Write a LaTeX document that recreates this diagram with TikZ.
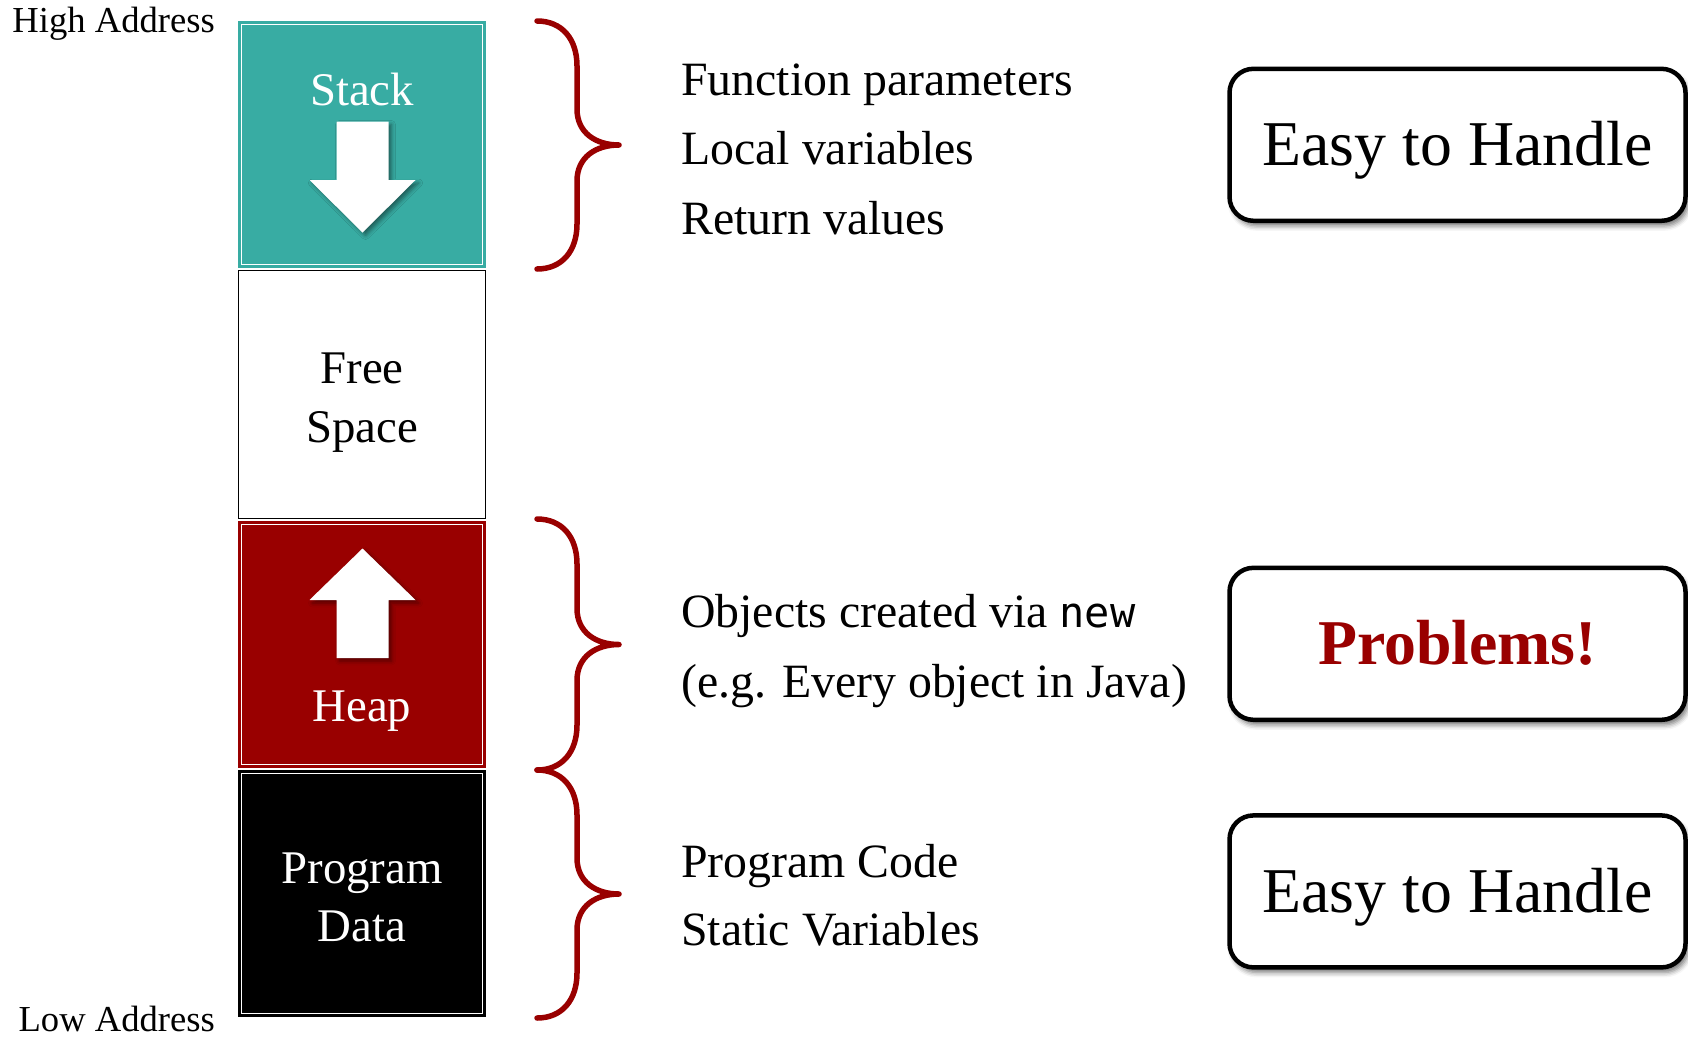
\documentclass[tikz,border=0pt]{standalone}
\usepackage{fontspec}
\setmainfont{Liberation Serif}
\newfontfamily\codefont{DejaVu Sans Mono}
\usetikzlibrary{shadows.blur}

\definecolor{stackteal}{RGB}{56,172,163}
\definecolor{heapred}{RGB}{153,0,0}
\definecolor{bracered}{RGB}{153,0,0}

\tikzset{
  % memory segment: coloured block with a thin white inner frame
  seg/.style={fill=#1, draw=#1, line width=0.8pt, inner sep=0pt, outer sep=0pt,
    minimum width=247pt, minimum height=246pt,
    path picture={\draw[white, line width=1.3pt]
      ([shift={(2.8pt,-2.8pt)}]path picture bounding box.north west) rectangle
      ([shift={(-2.8pt,2.8pt)}]path picture bounding box.south east);}},
  freeseg/.style={fill=white, draw=black, line width=1.8pt, inner sep=0pt,
    minimum width=247pt, minimum height=248pt},
  seglabel/.style={text=white, inner sep=0pt, anchor=base,
    font=\fontsize{46.8}{56}\selectfont},
  darklabel/.style={seglabel, text=black},
  addr/.style={inner sep=0pt, anchor=base east, font=\fontsize{36.6}{44}\selectfont},
  note/.style={inner sep=0pt, anchor=base west, font=\fontsize{47.8}{57}\selectfont},
  growarrow/.style={fill=white, draw=none,
    blur shadow={shadow xshift=3pt, shadow yshift=-3pt, shadow blur radius=4pt,
      shadow opacity=45}},
  bracestyle/.style={draw=bracered, line width=5.5pt, line cap=round, line join=round},
  callout/.style={draw=black, fill=white, line width=4.5pt, rounded corners=24pt,
    minimum width=456pt, minimum height=152pt, inner sep=0pt,
    font=\fontsize{63.8}{76}\selectfont, text height=42pt, text depth=0pt,
    blur shadow={shadow xshift=3pt, shadow yshift=-5pt, shadow blur radius=5pt,
      shadow opacity=55}}
}

% curly brace on the right of a segment, from y=#1 down to y=#2
\newcommand\membrace[2]{%
  \pgfmathsetmacro\bt{#1}\pgfmathsetmacro\bb{#2}\pgfmathsetmacro\bm{(#1+#2)/2}%
  \draw[bracestyle] (537,\bt) .. controls (562,\bt) and (577,\bt+18) .. (577,\bt+45)
    -- (577,\bm-36) .. controls (577,\bm-12) and (596,\bm) .. (619,\bm)
    .. controls (596,\bm) and (577,\bm+12) .. (577,\bm+36)
    -- (577,\bb-45) .. controls (577,\bb-18) and (562,\bb) .. (537,\bb);}

\begin{document}
\begin{tikzpicture}[x=1pt,y=-1pt]
\useasboundingbox (0,0) rectangle (1688,1037);

% address labels
\node[addr] (high) at (215,32.5) {High Address};
\node[addr] (low) at (215,1031) {Low Address};

% memory segments
\node[seg=stackteal] (stack) at (362,144.5) {};
\node[freeseg] (free) at (362,394.5) {};
\node[seg=heapred] (heap) at (362,644.5) {};
\node[seg=black] (prog) at (362,893.5) {};

% segment labels
\node[seglabel] (stacklbl) at (362,105) {Stack};
\node[darklabel] (free1) at (362,383) {Free};
\node[darklabel] (free2) at (362,442) {Space};
\node[seglabel] (heaplbl) at (362,721) {Heap};
\node[seglabel] (prog1) at (362,883) {Program};
\node[seglabel] (prog2) at (362,941) {Data};

% growth directions
\path[growarrow] (336.5,121.5) -- (388.5,121.5) -- (388.5,180) -- (415.5,180)
  -- (362.5,232.5) -- (309.5,180) -- (336.5,180) -- cycle;
\path[growarrow] (336.5,658) -- (388.5,658) -- (388.5,600) -- (415.5,600)
  -- (362.5,548.5) -- (309.5,600) -- (336.5,600) -- cycle;

% braces
\membrace{21}{269}
\membrace{519}{770}
\membrace{770}{1018}

% what each segment holds
\node[note] (n1) at (681,95) {Function parameters};
\node[note] (n2) at (681,164.5) {Local variables};
\node[note] (n3) at (681,234) {Return values};
\node[note] (n4) at (681,627) {Objects created via {\codefont\fontsize{42}{50}\selectfont new}};
\node[note] (n5) at (681,697) {(e.g. Every object in Java)};
\node[note] (n6) at (681,877) {Program Code};
\node[note] (n7) at (681,945.5) {Static Variables};

% verdicts
\node[callout] (easy1) at (1457.5,144.8) {Easy to Handle};
\node[callout, text=heapred, font=\fontsize{63.8}{76}\selectfont\bfseries] (problems) at (1457.5,643.8) {Problems!};
\node[callout] (easy2) at (1457.5,891.4) {Easy to Handle};
\end{tikzpicture}
\end{document}
